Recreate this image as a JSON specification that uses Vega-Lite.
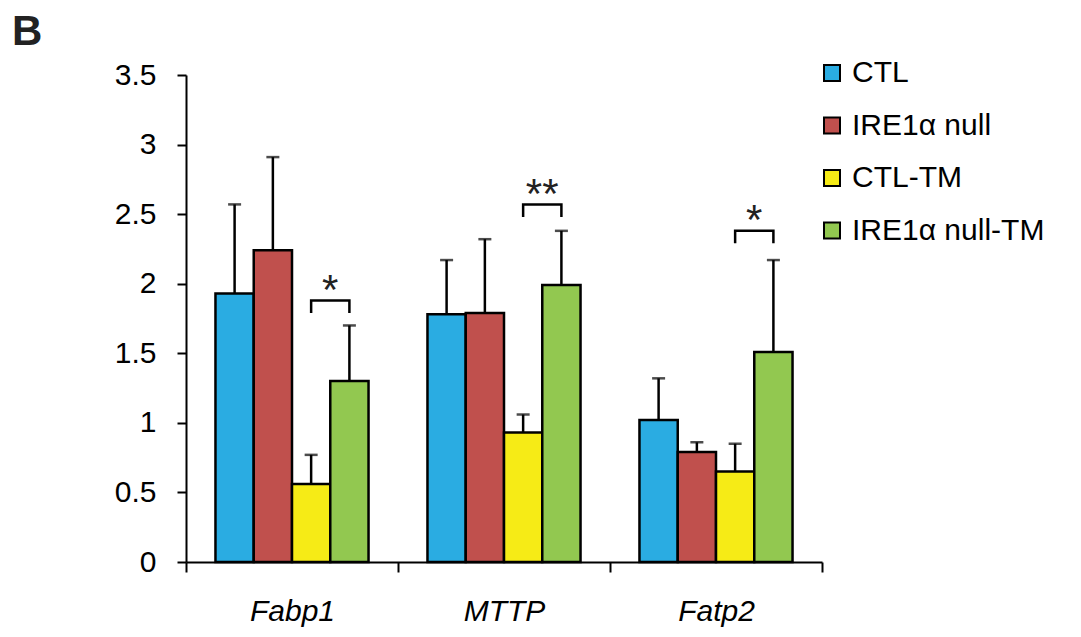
{
  "$schema": "https://vega.github.io/schema/vega-lite/v6.json",
  "width": 636,
  "height": 487,
  "autosize": {"type": "none"},
  "padding": {"left": 186, "top": 75, "right": 259, "bottom": 75},
  "background": "white",
  "config": {
    "view": {"stroke": null},
    "font": "Liberation Sans",
    "axis": {"labelFont": "Liberation Sans", "labelColor": "black", "domainColor": "black", "tickColor": "black", "domainWidth": 2, "tickWidth": 2, "grid": false},
    "legend": {"labelFont": "Liberation Sans"}
  },
  "title": {"text": "B", "anchor": "start", "frame": "group", "dx": -174, "dy": 0, "fontSize": 42, "fontWeight": "bold", "font": "Liberation Sans", "color": "#222222"},
  "datasets": {
    "bars": [
      {"gene": "Fabp1", "group": "CTL", "value": 1.93, "upper": 2.57},
      {"gene": "Fabp1", "group": "IRE1α null", "value": 2.24, "upper": 2.91},
      {"gene": "Fabp1", "group": "CTL-TM", "value": 0.56, "upper": 0.77},
      {"gene": "Fabp1", "group": "IRE1α null-TM", "value": 1.30, "upper": 1.70},
      {"gene": "MTTP", "group": "CTL", "value": 1.78, "upper": 2.17},
      {"gene": "MTTP", "group": "IRE1α null", "value": 1.79, "upper": 2.32},
      {"gene": "MTTP", "group": "CTL-TM", "value": 0.93, "upper": 1.06},
      {"gene": "MTTP", "group": "IRE1α null-TM", "value": 1.99, "upper": 2.38},
      {"gene": "Fatp2", "group": "CTL", "value": 1.02, "upper": 1.32},
      {"gene": "Fatp2", "group": "IRE1α null", "value": 0.79, "upper": 0.86},
      {"gene": "Fatp2", "group": "CTL-TM", "value": 0.65, "upper": 0.85},
      {"gene": "Fatp2", "group": "IRE1α null-TM", "value": 1.51, "upper": 2.17}
    ],
    "brackets": [
      {"gene": "Fabp1", "group": "CTL-TM", "y": 1.79, "ord": 1},
      {"gene": "Fabp1", "group": "CTL-TM", "y": 1.88, "ord": 2},
      {"gene": "Fabp1", "group": "IRE1α null-TM", "y": 1.88, "ord": 3},
      {"gene": "Fabp1", "group": "IRE1α null-TM", "y": 1.79, "ord": 4},
      {"gene": "MTTP", "group": "CTL-TM", "y": 2.48, "ord": 1},
      {"gene": "MTTP", "group": "CTL-TM", "y": 2.57, "ord": 2},
      {"gene": "MTTP", "group": "IRE1α null-TM", "y": 2.57, "ord": 3},
      {"gene": "MTTP", "group": "IRE1α null-TM", "y": 2.48, "ord": 4},
      {"gene": "Fatp2", "group": "CTL-TM", "y": 2.29, "ord": 1},
      {"gene": "Fatp2", "group": "CTL-TM", "y": 2.38, "ord": 2},
      {"gene": "Fatp2", "group": "IRE1α null-TM", "y": 2.38, "ord": 3},
      {"gene": "Fatp2", "group": "IRE1α null-TM", "y": 2.29, "ord": 4}
    ],
    "stars": [
      {"gene": "Fabp1", "group": "CTL-TM", "label": "*", "y": 1.95},
      {"gene": "MTTP", "group": "CTL-TM", "label": "**", "y": 2.64},
      {"gene": "Fatp2", "group": "CTL-TM", "label": "*", "y": 2.45}
    ]
  },
  "encoding": {
    "x": {
      "field": "gene", "type": "nominal",
      "scale": {"domain": ["Fabp1", "MTTP", "Fatp2"], "paddingInner": 0, "paddingOuter": 0},
      "axis": {"title": null, "labelAngle": 0, "tickBand": "extent", "tickSize": 10, "labelFontSize": 30, "labelFontStyle": "italic", "labelPadding": 24}
    },
    "xOffset": {
      "field": "group", "type": "nominal",
      "scale": {"domain": ["CTL", "IRE1α null", "CTL-TM", "IRE1α null-TM"], "paddingInner": 0, "paddingOuter": 0.77}
    }
  },
  "layer": [
    {
      "data": {"name": "bars"},
      "mark": {"type": "bar", "stroke": "black", "strokeWidth": 2.5},
      "encoding": {
        "y": {
          "field": "value", "type": "quantitative",
          "scale": {"domain": [0, 3.5], "nice": false},
          "axis": {"title": null, "values": [0, 0.5, 1, 1.5, 2, 2.5, 3, 3.5], "labelExpr": "datum.value + ''", "labelFontSize": 30, "tickSize": 9, "labelPadding": 21}
        },
        "color": {
          "field": "group", "type": "nominal",
          "scale": {"domain": ["CTL", "IRE1α null", "CTL-TM", "IRE1α null-TM"], "range": ["#2AACE2", "#C0504D", "#F6EB16", "#92C850"]},
          "legend": {"title": null, "orient": "none", "legendX": 631, "legendY": -17, "symbolType": "square", "symbolSize": 256, "symbolStrokeColor": "black", "symbolStrokeWidth": 2, "symbolOpacity": 1, "labelFontSize": 30, "labelColor": "black", "rowPadding": 22.5, "labelOffset": 5, "labelLimit": 400}
        }
      }
    },
    {
      "data": {"name": "bars"},
      "mark": {"type": "rule", "color": "black", "strokeWidth": 2.5},
      "encoding": {
        "y": {"field": "value", "type": "quantitative"},
        "y2": {"field": "upper"}
      }
    },
    {
      "data": {"name": "bars"},
      "mark": {"type": "tick", "color": "black", "size": 13, "thickness": 2.5, "orient": "horizontal"},
      "encoding": {
        "y": {"field": "upper", "type": "quantitative"}
      }
    },
    {
      "data": {"name": "brackets"},
      "mark": {"type": "line", "color": "black", "strokeWidth": 2.5},
      "encoding": {
        "y": {"field": "y", "type": "quantitative"},
        "detail": {"field": "gene"},
        "order": {"field": "ord", "type": "quantitative"}
      }
    },
    {
      "data": {"name": "stars"},
      "mark": {"type": "text", "fontSize": 42, "dx": 19, "baseline": "middle", "color": "#222222", "font": "Liberation Sans"},
      "encoding": {
        "y": {"field": "y", "type": "quantitative"},
        "text": {"field": "label"}
      }
    }
  ]
}
